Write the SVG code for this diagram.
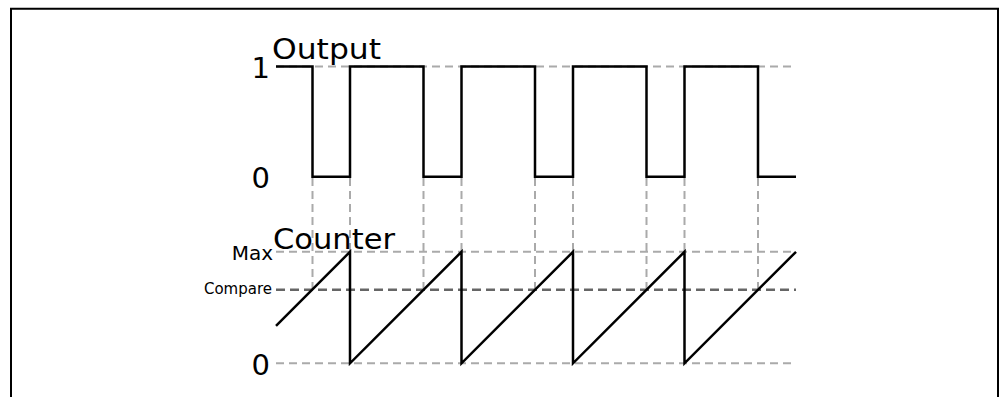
<svg xmlns="http://www.w3.org/2000/svg" width="1008" height="397" viewBox="0 0 1008 397">
<style>
.bg{fill:#ffffff}
.frame{fill:none;stroke:#000;stroke-width:2}
.grid{fill:none;stroke:#aaaaaa;stroke-width:2;stroke-dasharray:8 5}
.cmp{fill:none;stroke:#666666;stroke-width:2.4;stroke-dasharray:9 5}
.wave{fill:none;stroke:#000;stroke-width:2.5;stroke-linejoin:miter}
.big{font-family:"DejaVu Sans","Liberation Sans",sans-serif;font-size:29px;fill:#000}
.mid{font-family:"DejaVu Sans","Liberation Sans",sans-serif;font-size:20px;fill:#000}
.small{font-family:"DejaVu Sans","Liberation Sans",sans-serif;font-size:15px;fill:#000}
</style>
<rect class="bg" x="0" y="0" width="1008" height="397"/>
<g id="frame">
<polyline class="frame" points="11,397 11,8.7 998,8.7 998,397"/>
</g>
<g id="connectors">
<line class="grid" x1="276" y1="66.5" x2="796" y2="66.5"/>
<line class="grid" x1="276" y1="251.8" x2="796" y2="251.8"/>
<line class="grid" x1="276" y1="363.3" x2="796" y2="363.3"/>
<line class="cmp" x1="276" y1="289.8" x2="796" y2="289.8"/>
<line class="grid" x1="312.5" y1="178" x2="312.5" y2="289.8"/>
<line class="grid" x1="350" y1="178" x2="350" y2="251.8"/>
<line class="grid" x1="423.5" y1="178" x2="423.5" y2="289.8"/>
<line class="grid" x1="461.5" y1="178" x2="461.5" y2="251.8"/>
<line class="grid" x1="535" y1="178" x2="535" y2="289.8"/>
<line class="grid" x1="573" y1="178" x2="573" y2="251.8"/>
<line class="grid" x1="646.5" y1="178" x2="646.5" y2="289.8"/>
<line class="grid" x1="684.5" y1="178" x2="684.5" y2="251.8"/>
<line class="grid" x1="758" y1="178" x2="758" y2="289.8"/>
</g>
<g id="output">
<polyline class="wave" points="276,66.5 312.5,66.5 312.5,176.7 350,176.7 350,66.5 423.5,66.5 423.5,176.7 461.5,176.7 461.5,66.5 535,66.5 535,176.7 573,176.7 573,66.5 646.5,66.5 646.5,176.7 684.5,176.7 684.5,66.5 758,66.5 758,176.7 796,176.7"/>
<text class="big" x="272" y="59" textLength="109" lengthAdjust="spacingAndGlyphs">Output</text>
<text class="big" x="270" y="77.5" text-anchor="end">1</text>
<text class="big" x="270" y="188" text-anchor="end">0</text>
</g>
<g id="counter">
<polyline class="wave" points="276,325.8 350,251.8 350,363.3 461.5,251.8 461.5,363.3 573,251.8 573,363.3 684.5,251.8 684.5,363.3 796,251.8"/>
<text class="big" x="273" y="249" textLength="122" lengthAdjust="spacingAndGlyphs">Counter</text>
<text class="mid" x="273" y="260" text-anchor="end">Max</text>
<text class="small" x="272" y="294" text-anchor="end">Compare</text>
<text class="big" x="270" y="375" text-anchor="end">0</text>
</g>
</svg>
